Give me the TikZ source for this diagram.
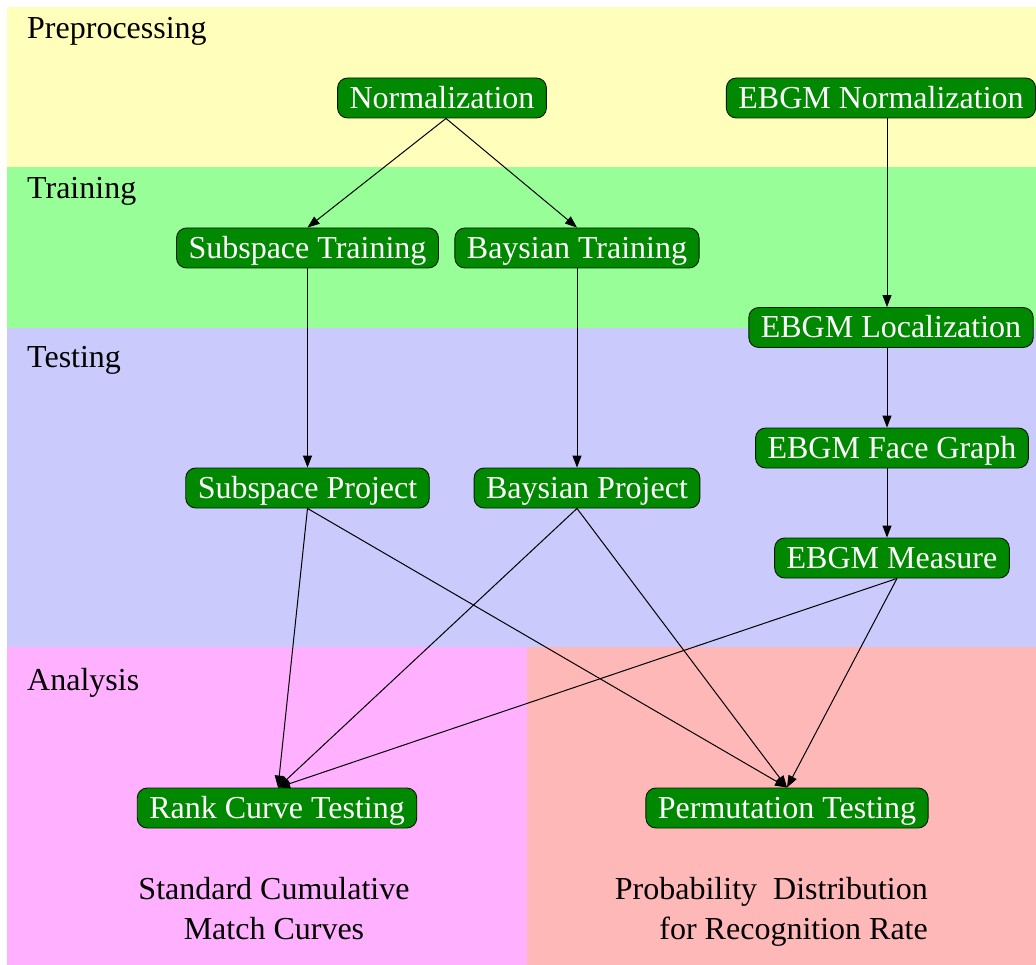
\documentclass[tikz,border=0pt]{standalone}
\usepackage{fontspec}
\setmainfont{Liberation Serif}
\usetikzlibrary{arrows.meta}
\definecolor{bgyellow}{RGB}{255,255,187}
\definecolor{bggreen}{RGB}{152,255,152}
\definecolor{bgblue}{RGB}{202,202,252}
\definecolor{bgpink}{RGB}{255,176,255}
\definecolor{bgsalmon}{RGB}{255,184,184}
\definecolor{nodegreen}{RGB}{0,136,0}
\tikzset{
  box/.style={draw=black!80!nodegreen, line width=0.9pt, fill=nodegreen, text=white,
    rounded corners=10pt, minimum height=40pt, inner ysep=0pt, inner xsep=12pt,
    text height=25pt, text depth=4pt, font=\fontsize{32}{38}\selectfont},
  lbl/.style={anchor=base west, inner sep=0pt, font=\fontsize{32}{38}\selectfont},
  note/.style={inner sep=0pt, font=\fontsize{32}{40}\selectfont},
  arr/.style={line width=1pt, -{Triangle[length=12pt,width=9pt]}}
}
\begin{document}
\begin{tikzpicture}[x=1pt,y=-1pt]
\useasboundingbox (0,0) rectangle (1036,965);
% bands
\fill[bgyellow] (7,7) rectangle (1036,167);
\fill[bggreen] (7,167) rectangle (1036,328);
\fill[bgblue] (7,328) rectangle (1036,647);
\fill[bgpink] (7,647) rectangle (527,965);
\fill[bgsalmon] (527,647) rectangle (1036,965);
% section labels
\node[lbl] (lpre) at (27,39) {Preprocessing};
\node[lbl] (ltra) at (27,199) {Training};
\node[lbl] (ltes) at (27,368) {Testing};
\node[lbl] (lana) at (27,690) {Analysis};
% nodes
\node[box] (norm) at (442,98) {Normalization};
\node[box] (ebgmn) at (881,98) {EBGM Normalization};
\node[box] (st) at (307.5,248) {Subspace Training};
\node[box] (bt) at (577,248) {Baysian Training};
\node[box] (ebgml) at (891,327.5) {EBGM Localization};
\node[box] (sp) at (307.5,488) {Subspace Project};
\node[box] (bp) at (587,488) {Baysian Project};
\node[box] (fg) at (892,448) {EBGM Face Graph};
\node[box] (me) at (892,558) {EBGM Measure};
\node[box] (rc) at (277,808) {Rank Curve Testing};
\node[box] (pt) at (787,808) {Permutation Testing};
% notes
\node[note, align=center, anchor=north] (n1) at (274,877) {Standard Cumulative\\Match Curves};
\node[note, align=right, anchor=north east] (n2) at (928,877) {Probability\ \ Distribution\\for Recognition Rate};
% edges
\draw[arr] ([xshift=4pt]norm.south) -- (st.north);
\draw[arr] ([xshift=4pt]norm.south) -- (bt.north);
\draw[arr] (st.south) -- (sp.north);
\draw[arr] (bt.south) -- (bt.south |- bp.north);
\draw[arr] ([xshift=6pt]ebgmn.south) -- ([xshift=-4pt]ebgml.north);
\draw[arr] ([xshift=-4pt]ebgml.south) -- ([xshift=-5pt]fg.north);
\draw[arr] ([xshift=-5pt]fg.south) -- ([xshift=-5pt]me.north);
\draw[arr] (sp.south) -- ([xshift=1pt]rc.north);
\draw[arr] (sp.south) -- (pt.north);
\draw[arr] ([xshift=-10pt]bp.south) -- ([xshift=1pt]rc.north);
\draw[arr] ([xshift=-10pt]bp.south) -- (pt.north);
\draw[arr] ([xshift=5pt]me.south) -- ([xshift=1pt]rc.north);
\draw[arr] ([xshift=5pt]me.south) -- (pt.north);
\end{tikzpicture}
\end{document}
